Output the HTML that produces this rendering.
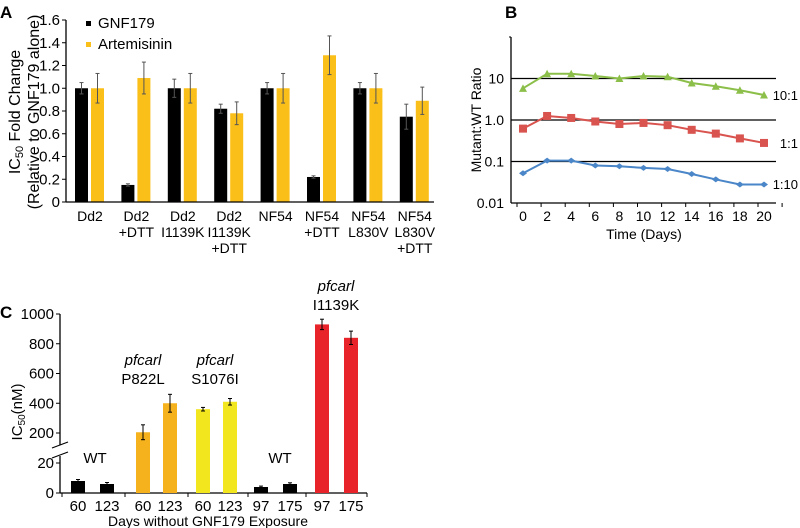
<!DOCTYPE html>
<html><head><meta charset="utf-8"><style>
body{margin:0;background:#fff;}
svg{display:block;font-family:"Liberation Sans",sans-serif;}
</style></head><body>
<svg id="fig" width="800" height="528" viewBox="0 0 800 528">
<text x="0" y="18" font-size="17" font-weight="bold">A</text>
<text x="505" y="18" font-size="17" font-weight="bold">B</text>
<text x="0" y="318" font-size="17" font-weight="bold">C</text>
<g id="pa"></g>
<g id="pb"></g>
<g id="pc"></g>
</svg>
<script>
// Panel A data
const aCats=[["Dd2"],["Dd2","+DTT"],["Dd2","I1139K"],["Dd2","I1139K","+DTT"],["NF54"],["NF54","+DTT"],["NF54","L830V"],["NF54","L830V","+DTT"]];
const aGnf=[1.0,0.15,1.0,0.82,1.0,0.22,1.0,0.75];
const aGnfErr=[0.05,0.01,0.08,0.04,0.05,0.01,0.05,0.11];
const aArt=[1.0,1.09,1.0,0.78,1.0,1.29,1.0,0.89];
const aArtErr=[0.13,0.14,0.13,0.10,0.13,0.17,0.13,0.12];
const aTicks=[0,0.2,0.4,0.6,0.8,1.0,1.2,1.4,1.6];
// Panel B data
const bDays=[0,2,4,6,8,10,12,14,16,18,20];
const b10to1=[5.8,13,13,11.5,10,11.5,11,7.8,6.5,5.2,4];
const b1to1=[0.62,1.25,1.12,0.92,0.8,0.85,0.75,0.58,0.47,0.36,0.28];
const b1to10=[0.052,0.105,0.105,0.08,0.077,0.07,0.066,0.05,0.037,0.028,0.028];
const bTicks=[0.01,0.1,1,10];
const bTickLabels=["0.01","0.1","1.0","10"];
// Panel C data
const cDays=["60","123","60","123","60","123","97","175","97","175"];
const cVals=[8,6,205,400,360,410,4,6,930,840];
const cErr=[1,1,50,60,12,22,0.6,0.8,35,45];
const cLowTicks=[0,20];
const cHighTicks=[200,400,600,800,1000];

const NS="http://www.w3.org/2000/svg";
function mk(p,tag,at,txt){const e=document.createElementNS(NS,tag);for(const k in at)e.setAttribute(k,at[k]);if(txt!=null)e.textContent=txt;p.appendChild(e);return e;}

// ---------- Panel A ----------
const pa=document.getElementById('pa');
const aY=v=>202-v*(182/1.6);
const aX=i=>90+i*46.4;
aTicks.forEach(t=>{const l=mk(pa,'line',{x1:62,x2:66,y1:aY(t),y2:aY(t),stroke:'#000'});

const tx=mk(pa,'text',{x:60,y:aY(t)+5,'font-size':15,'text-anchor':'end'},t===0?'0':t.toFixed(1));
});
function errBar(p,x,y1,y2,w){mk(p,'line',{x1:x,x2:x,y1:y1,y2:y2,stroke:'#555','stroke-width':1});mk(p,'line',{x1:x-w,x2:x+w,y1:y1,y2:y1,stroke:'#555'});mk(p,'line',{x1:x-w,x2:x+w,y1:y2,y2:y2,stroke:'#555'});}
aCats.forEach((c,i)=>{const cx=aX(i);
const b=mk(pa,'rect',{x:cx-15,y:aY(aGnf[i]),width:13,height:aY(0)-aY(aGnf[i]),fill:'#000'});

const y=mk(pa,'rect',{x:cx+1,y:aY(aArt[i]),width:13,height:aY(0)-aY(aArt[i]),fill:'#fbbf1a'});

errBar(pa,cx-8.5,aY(aGnf[i]+aGnfErr[i]),aY(aGnf[i]-aGnfErr[i]),2);
errBar(pa,cx+7.5,aY(aArt[i]+aArtErr[i]),aY(aArt[i]-aArtErr[i]),2);
c.forEach((s,j)=>{const t=mk(pa,'text',{x:cx,y:221+j*16,'font-size':14,'text-anchor':'middle'},s);
});});
mk(pa,'line',{x1:66,x2:66,y1:20,y2:202,stroke:'#000','stroke-width':1.3});
mk(pa,'line',{x1:66,x2:434,y1:202,y2:202,stroke:'#000','stroke-width':1.3});
const at=mk(pa,'text',{transform:'translate(20,112) rotate(-90)','font-size':16,'text-anchor':'middle'});

at.innerHTML='IC<tspan font-size="11" dy="3">50</tspan><tspan dy="-3"> Fold Change</tspan>';
const at2=mk(pa,'text',{transform:'translate(39,112) rotate(-90)','font-size':16,'text-anchor':'middle'},'(Relative to GNF179 alone)');

[["GNF179","#000",28],["Artemisinin","#fbbf1a",49]].forEach(([n,c,yy])=>{
const g=mk(pa,'g',{});
mk(g,'rect',{x:86,y:yy-7,width:5,height:5,fill:c});mk(g,'text',{x:98,y:yy,'font-size':15},n);});

// ---------- Panel B ----------
const pb=document.getElementById('pb');
const bY=v=>203-(Math.log10(v)+2)*41.5;
const bX=d=>523+d*12.05;
mk(pb,'line',{x1:511,x2:511,y1:37,y2:203,stroke:'#000','stroke-width':1.3});
mk(pb,'line',{x1:511,x2:776,y1:203,y2:203,stroke:'#000','stroke-width':1.3});
mk(pb,'line',{x1:509,x2:511,y1:37,y2:37,stroke:'#000'});
bTicks.forEach((t,i)=>{if(i>0){const g=mk(pb,'line',{x1:511,x2:776,y1:bY(t),y2:bY(t),stroke:'#000','stroke-width':1.2});}
const tx=mk(pb,'text',{x:504,y:bY(t)+5,'font-size':14,'text-anchor':'end'},bTickLabels[i]);
});
for(let k=0;k<=11;k++){const x=517+k*24.1*0.5*2;mk(pb,'line',{x1:x,x2:x,y1:203,y2:207,stroke:'#000'});}
bDays.forEach(d=>{const tx=mk(pb,'text',{x:bX(d),y:221,'font-size':14,'text-anchor':'middle'},String(d));
});
const bxt=mk(pb,'text',{x:644,y:239,'font-size':14,'text-anchor':'middle'},'Time (Days)');

const byt=mk(pb,'text',{transform:'translate(481,120) rotate(-90)','font-size':14,'text-anchor':'middle'},'Mutant:WT Ratio');

[[b10to1,'#8cbf4a','tri','10:1',100],[b1to1,'#d9534f','sq','1:1',148],[b1to10,'#4a86c8','dia','1:10',189]].forEach(([arr,col,m,lab,ly])=>{
const pl=mk(pb,'polyline',{points:arr.map((v,i)=>bX(bDays[i])+','+bY(v)).join(' '),fill:'none',stroke:col,'stroke-width':2});

arr.forEach((v,i)=>{const x=bX(bDays[i]),y=bY(v);let e;
if(m==='sq')e=mk(pb,'rect',{x:x-4,y:y-4,width:8,height:8,fill:col});
else if(m==='tri')e=mk(pb,'polygon',{points:`${x-4},${y+3.5} ${x+4},${y+3.5} ${x},${y-4}`,fill:col});
else e=mk(pb,'polygon',{points:`${x-4},${y} ${x},${y-3} ${x+4},${y} ${x},${y+3}`,fill:col});
});
const t=mk(pb,'text',{x:798,y:ly,'font-size':13,'text-anchor':'end'},lab);
});

// ---------- Panel C ----------
const pc=document.getElementById('pc');
const cY=v=>v<=20?493-v*1.5:433-(v-200)*(119/800);
const cX=i=>[78,107,143,170,203,230,261,290,322,351][i];
const cCols=['#000','#000','#f6b21c','#f6b21c','#f2e61e','#f2e61e','#000','#000','#e8232a','#e8232a'];
mk(pc,'line',{x1:60,x2:60,y1:314,y2:445,stroke:'#000','stroke-width':1.3});
mk(pc,'line',{x1:60,x2:60,y1:456,y2:493,stroke:'#000','stroke-width':1.3});
mk(pc,'line',{x1:52,x2:68,y1:448,y2:442,stroke:'#000','stroke-width':1.2});
mk(pc,'line',{x1:52,x2:68,y1:458,y2:452,stroke:'#000','stroke-width':1.2});
mk(pc,'line',{x1:60,x2:367,y1:493,y2:493,stroke:'#000','stroke-width':1.3});
cLowTicks.concat(cHighTicks).forEach(t=>{const y=cY(t);mk(pc,'line',{x1:56,x2:60,y1:y,y2:y,stroke:'#000'});
const tx=mk(pc,'text',{x:54,y:y+5,'font-size':15,'text-anchor':'end'},String(t));
});
for(let k=0;k<=5;k++){const x=[62,125,188,248,306,367][k];mk(pc,'line',{x1:x,x2:x,y1:493,y2:497,stroke:'#000'});}
cVals.forEach((v,i)=>{const x=cX(i);
const b=mk(pc,'rect',{x:x-7,y:cY(v),width:14,height:493-cY(v),fill:cCols[i]});

if(cErr[i]>0){const y1=cY(v+cErr[i]),y2=cY(v-cErr[i]);mk(pc,'line',{x1:x,x2:x,y1:y1,y2:y2,stroke:'#000'});mk(pc,'line',{x1:x-2,x2:x+2,y1:y1,y2:y1,stroke:'#000'});mk(pc,'line',{x1:x-2,x2:x+2,y1:y2,y2:y2,stroke:'#000'});}
const t=mk(pc,'text',{x:x,y:511,'font-size':15,'text-anchor':'middle'},cDays[i]);
});
const cxt=mk(pc,'text',{x:208,y:526,'font-size':14,'text-anchor':'middle'},'Days without GNF179 Exposure');

const cyt=mk(pc,'text',{transform:'translate(22,412) rotate(-90)','font-size':15,'text-anchor':'middle'});

cyt.innerHTML='IC<tspan font-size="10" dy="3">50</tspan><tspan dy="-3">(nM)</tspan>';
[['WT',null,95,463],['WT',null,280,463],['pfcarl','P822L',143,384],['pfcarl','S1076I',215,384],['pfcarl','I1139K',336,310]].forEach(([a,b,x,y])=>{
const g=mk(pc,'g',{});
if(b){mk(g,'text',{x:x,y:y-19,'font-size':15,'text-anchor':'middle','font-style':'italic'},a);mk(g,'text',{x:x,y:y,'font-size':15,'text-anchor':'middle'},b);}
else mk(g,'text',{x:x,y:y,'font-size':15,'text-anchor':'middle'},a);});
</script>
</body></html>
